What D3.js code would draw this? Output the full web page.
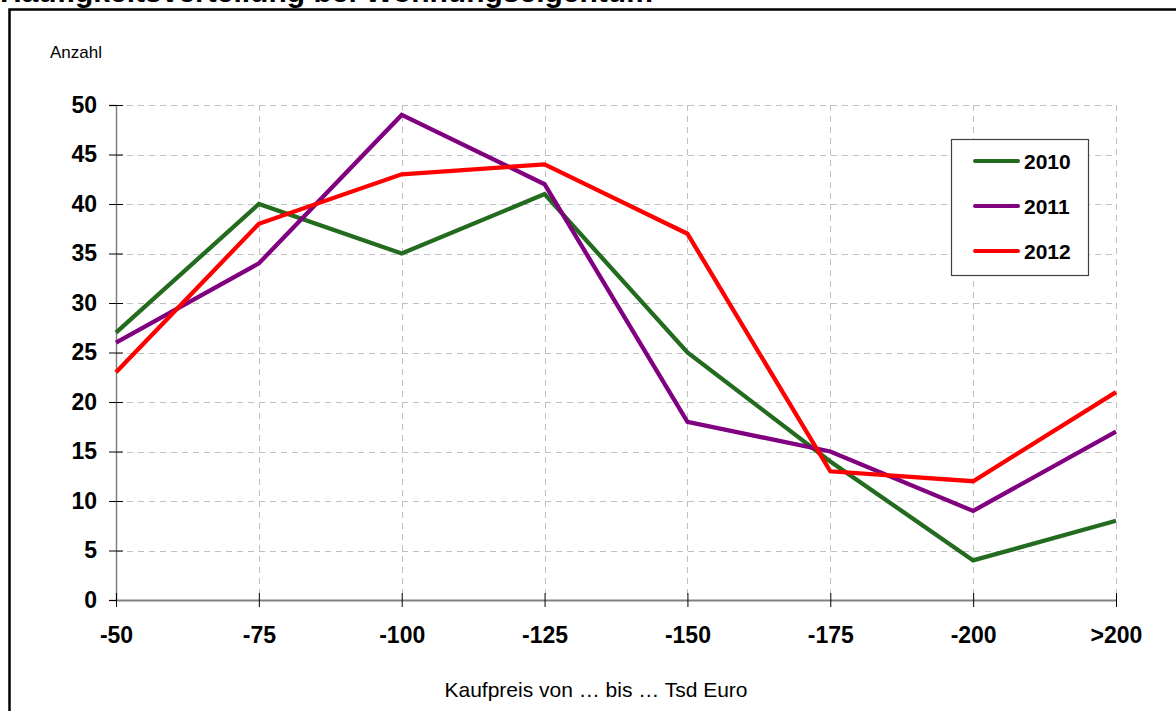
<!DOCTYPE html>
<html>
<head>
<meta charset="utf-8">
<script src="https://cdn.jsdelivr.net/npm/d3@7"></script>
<style>
  html, body { margin: 0; padding: 0; background: #fff; }
  svg { display: block; font-family: Arial, "Liberation Sans", sans-serif; }
</style>
</head>
<body>
<svg id="chart" width="1176" height="711"></svg>
<script>
// Price bands (Tsd Euro) and number of sales per year
const categories = ["-50", "-75", "-100", "-125", "-150", "-175", "-200", ">200"];
const values2010 = [27, 40, 35, 41, 25, 14, 4, 8];
const values2011 = [26, 34, 49, 42, 18, 15, 9, 17];
const values2012 = [23, 38, 43, 44, 37, 13, 12, 21];
const yTicks = [0, 5, 10, 15, 20, 25, 30, 35, 40, 45, 50];

const series = [
  { name: "2010", values: values2010, color: "#236b1e" },
  { name: "2011", values: values2011, color: "#800080" },
  { name: "2012", values: values2012, color: "#ff0000" }
];

const FONT = "Arial, 'Liberation Sans', sans-serif";
const svg = d3.select("#chart");

const plot = { left: 116, right: 1116, top: 105, bottom: 600 };

const x = d3.scalePoint().domain(categories).range([plot.left, plot.right]);
const y = d3.scaleLinear().domain([0, 50]).range([plot.bottom, plot.top]);

// Title (runs off the top edge of the page)
svg.append("text")
  .attr("x", 0).attr("y", 2)
  .attr("font-size", 30).attr("font-weight", "bold")
  .attr("fill", "#000")
  .text("Häufigkeitsverteilung bei Wohnungseigentum");

// Outer frame
svg.append("path")
  .attr("d", "M9.5,711 V9.5 H1176")
  .attr("fill", "none").attr("stroke", "#000").attr("stroke-width", 2.5);

// Gridlines
const grid = svg.append("g").attr("stroke", "#c0c0c0").attr("stroke-width", 1)
  .attr("stroke-dasharray", "6,5").attr("shape-rendering", "crispEdges");
grid.selectAll("line.h").data(yTicks.filter(d => d > 0)).join("line")
  .attr("x1", plot.left).attr("x2", plot.right)
  .attr("y1", d => Math.round(y(d)) + 0.5).attr("y2", d => Math.round(y(d)) + 0.5);
grid.selectAll("line.v").data(categories.slice(1)).join("line")
  .attr("x1", d => Math.round(x(d)) + 0.5).attr("x2", d => Math.round(x(d)) + 0.5)
  .attr("y1", plot.top).attr("y2", plot.bottom);

// Y axis
const yAxis = svg.append("g")
  .attr("transform", `translate(${plot.left},0)`)
  .call(d3.axisLeft(y).tickValues(yTicks).tickSize(7).tickPadding(12));
yAxis.select(".domain").attr("stroke", "#808080").attr("stroke-width", 1.5);
yAxis.selectAll(".tick line").attr("stroke", "#000").attr("x2", -7).attr("x1", 7);
yAxis.selectAll(".tick text")
  .attr("font-family", FONT)
  .attr("font-size", 23).attr("font-weight", "bold").attr("fill", "#000");

// X axis
const xAxis = svg.append("g")
  .attr("transform", `translate(0,${plot.bottom})`)
  .call(d3.axisBottom(x).tickSize(7).tickPadding(20));
xAxis.select(".domain").attr("stroke", "#808080").attr("stroke-width", 2)
  .attr("d", `M${plot.left},0.5H${plot.right}`);
xAxis.selectAll(".tick line").attr("stroke", "#000").attr("y1", -7).attr("y2", 7);
xAxis.selectAll(".tick text")
  .attr("font-family", FONT)
  .attr("font-size", 23).attr("font-weight", "bold").attr("fill", "#000");

// Axis titles
svg.append("text")
  .attr("x", 50).attr("y", 58)
  .attr("font-size", 17).attr("fill", "#000")
  .text("Anzahl");
svg.append("text")
  .attr("x", 596).attr("y", 697)
  .attr("text-anchor", "middle")
  .attr("font-size", 21).attr("fill", "#000")
  .text("Kaufpreis von … bis … Tsd Euro");

// Lines
const line = d3.line()
  .x((d, i) => x(categories[i]))
  .y(d => y(d));
svg.append("g").selectAll("path").data(series).join("path")
  .attr("d", d => line(d.values))
  .attr("fill", "none")
  .attr("stroke", d => d.color)
  .attr("stroke-width", 4.3)
  .attr("stroke-linejoin", "miter");

// Legend
const legend = svg.append("g");
legend.append("rect")
  .attr("x", 951.5).attr("y", 139.5).attr("width", 137).attr("height", 136)
  .attr("fill", "#fff").attr("stroke", "#404040").attr("stroke-width", 1.2);
const item = legend.selectAll("g.item").data(series).join("g")
  .attr("transform", (d, i) => `translate(0,${161 + i * 45})`);
item.append("line")
  .attr("x1", 975).attr("x2", 1018).attr("y1", 0).attr("y2", 0)
  .attr("stroke", d => d.color).attr("stroke-width", 4).attr("stroke-linecap", "round");
item.append("text")
  .attr("x", 1024).attr("y", 8)
  .attr("font-size", 21).attr("font-weight", "bold").attr("fill", "#000")
  .text(d => d.name);
</script>
</body>
</html>
